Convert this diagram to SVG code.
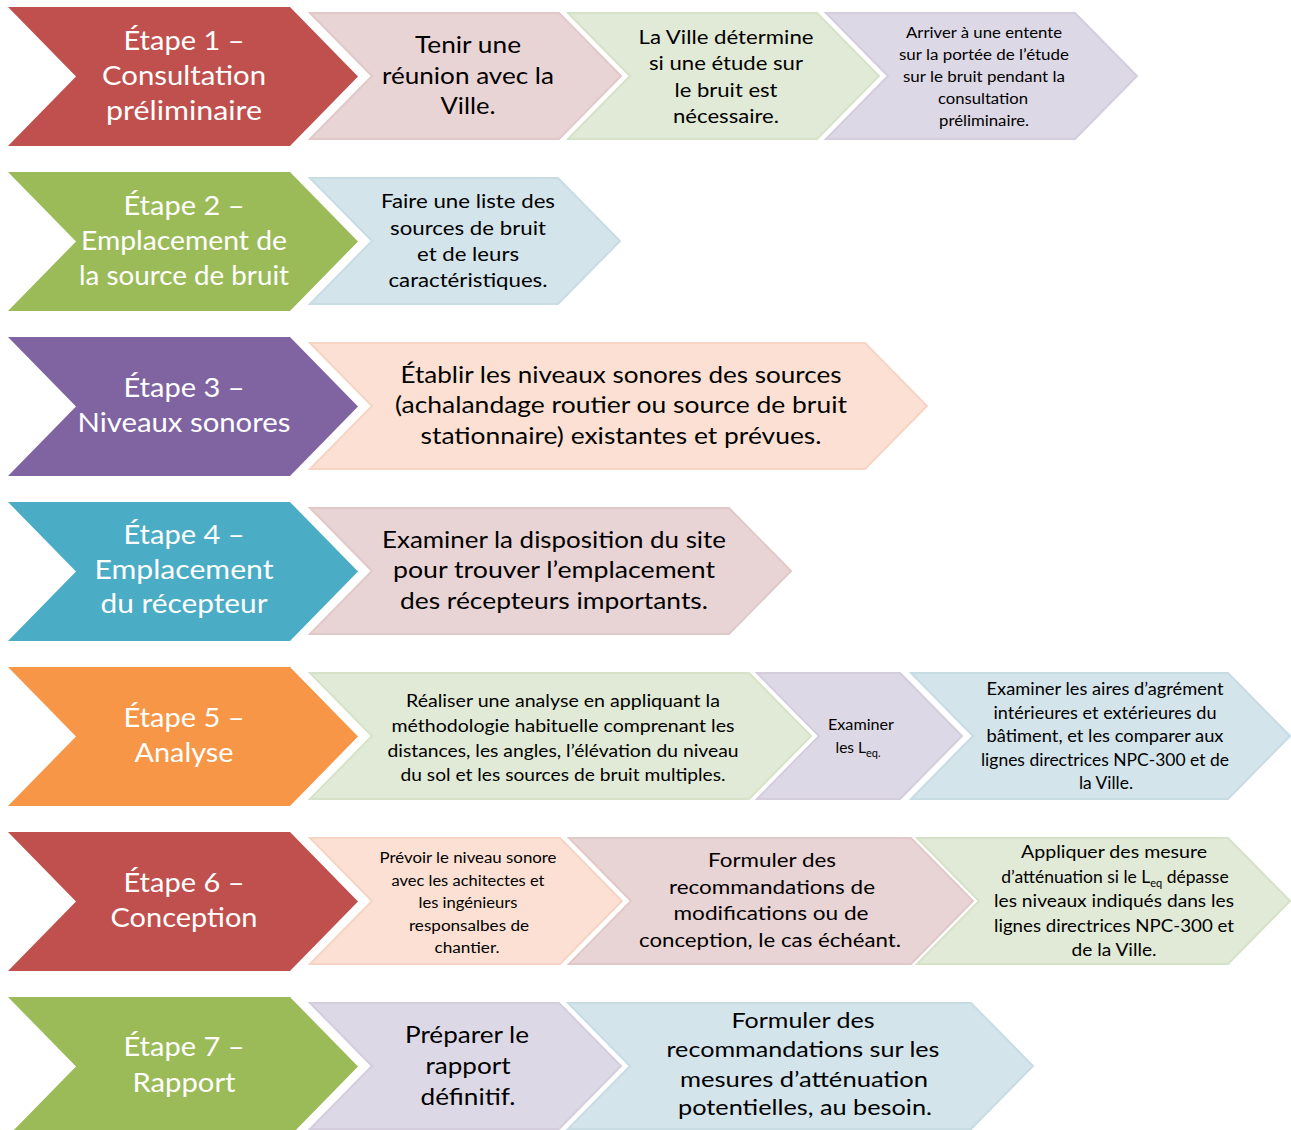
<svg xmlns="http://www.w3.org/2000/svg" width="1291" height="1130" viewBox="0 0 1291 1130">
<style>
text{font-family:Lato,"Open Sans","Liberation Sans",sans-serif;text-anchor:middle}
.m{fill:#fff;font-size:26.5px}
.s{fill:#000}
.f22{font-size:22.5px}
.f21{font-size:21.5px}
.f19{font-size:19.5px}
.f17{font-size:17.5px}
.f16{font-size:16.5px}
.f15{font-size:15.5px}
.sub{font-size:11px}
.red{fill:#C0504D}.grn{fill:#9BBB59}.pur{fill:#8064A2}.tea{fill:#4BACC6}.ora{fill:#F79646}
.pk{fill:#E9D4D5;stroke:#E1C8C9;stroke-width:2}
.lg{fill:#E1EAD6;stroke:#D6E2C8;stroke-width:2}
.lv{fill:#DDD8E5;stroke:#D3CDDD;stroke-width:2}
.lb{fill:#D3E4EB;stroke:#C8DCE4;stroke-width:2}
.pc{fill:#FCE0D3;stroke:#F6D4C4;stroke-width:2}
</style>
<rect width="1291" height="1130" fill="#fff"/>

<g id="etape1">
<path class="red" d="M8,7 H290 L358,76.5 L290,146 H8 L76,76.5 Z"/>
<text class="m" x="184" y="50" textLength="121" lengthAdjust="spacingAndGlyphs">Étape 1 –</text>
<text class="m" x="184" y="85" textLength="164" lengthAdjust="spacingAndGlyphs">Consultation</text>
<text class="m" x="184" y="120" textLength="156" lengthAdjust="spacingAndGlyphs">préliminaire</text>
</g>
<g id="e1a">
<path class="pk" d="M310,13 H559 L621,76 L559,139 H310 L372,76 Z"/>
<text class="s f22" x="468" y="53" textLength="106" lengthAdjust="spacingAndGlyphs">Tenir une</text>
<text class="s f22" x="468" y="84" textLength="172" lengthAdjust="spacingAndGlyphs">réunion avec la</text>
<text class="s f22" x="468" y="114" textLength="55" lengthAdjust="spacingAndGlyphs">Ville.</text>
</g>
<g id="e1b">
<path class="lg" d="M568,13 H817 L879,76 L817,139 H568 L630,76 Z"/>
<text class="s f19" x="726" y="44" textLength="175" lengthAdjust="spacingAndGlyphs">La Ville détermine</text>
<text class="s f19" x="726" y="70" textLength="154" lengthAdjust="spacingAndGlyphs">si une étude sur</text>
<text class="s f19" x="726" y="97" textLength="103" lengthAdjust="spacingAndGlyphs">le bruit est</text>
<text class="s f19" x="726" y="123" textLength="106" lengthAdjust="spacingAndGlyphs">nécessaire.</text>
</g>
<g id="e1c">
<path class="lv" d="M826,13 H1075 L1137,76 L1075,139 H826 L888,76 Z"/>
<text class="s f15" x="984" y="38" textLength="156" lengthAdjust="spacingAndGlyphs">Arriver à une entente</text>
<text class="s f15" x="984" y="60" textLength="170" lengthAdjust="spacingAndGlyphs">sur la portée de l’étude</text>
<text class="s f15" x="984" y="82" textLength="162" lengthAdjust="spacingAndGlyphs">sur le bruit pendant la</text>
<text class="s f15" x="983" y="104" textLength="90" lengthAdjust="spacingAndGlyphs">consultation</text>
<text class="s f15" x="984" y="126" textLength="90" lengthAdjust="spacingAndGlyphs">préliminaire.</text>
</g>

<g id="etape2">
<path class="grn" d="M8,172 H290 L358,241.5 L290,311 H8 L76,241.5 Z"/>
<text class="m" x="184" y="215" textLength="121" lengthAdjust="spacingAndGlyphs">Étape 2 –</text>
<text class="m" x="184" y="250" textLength="206" lengthAdjust="spacingAndGlyphs">Emplacement de</text>
<text class="m" x="184" y="285" textLength="210" lengthAdjust="spacingAndGlyphs">la source de bruit</text>
</g>
<g id="e2a">
<path class="lb" d="M310,178 H558 L620,241 L558,304 H310 L372,241 Z"/>
<text class="s f19" x="468" y="208" textLength="174" lengthAdjust="spacingAndGlyphs">Faire une liste des</text>
<text class="s f19" x="468" y="235" textLength="156" lengthAdjust="spacingAndGlyphs">sources de bruit</text>
<text class="s f19" x="468" y="261" textLength="102" lengthAdjust="spacingAndGlyphs">et de leurs</text>
<text class="s f19" x="468" y="287" textLength="159" lengthAdjust="spacingAndGlyphs">caractéristiques.</text>
</g>

<g id="etape3">
<path class="pur" d="M8,337 H290 L358,406.5 L290,476 H8 L76,406.5 Z"/>
<text class="m" x="184" y="397" textLength="121" lengthAdjust="spacingAndGlyphs">Étape 3 –</text>
<text class="m" x="184" y="432" textLength="213" lengthAdjust="spacingAndGlyphs">Niveaux sonores</text>
</g>
<g id="e3a">
<path class="pc" d="M310,343 H865 L927,406 L865,469 H310 L372,406 Z"/>
<text class="s f22" x="621" y="383" textLength="441" lengthAdjust="spacingAndGlyphs">Établir les niveaux sonores des sources</text>
<text class="s f22" x="621" y="413" textLength="452" lengthAdjust="spacingAndGlyphs">(achalandage routier ou source de bruit</text>
<text class="s f22" x="621" y="444" textLength="401" lengthAdjust="spacingAndGlyphs">stationnaire) existantes et prévues.</text>
</g>

<g id="etape4">
<path class="tea" d="M8,502 H290 L358,571.5 L290,641 H8 L76,571.5 Z"/>
<text class="m" x="184" y="544" textLength="121" lengthAdjust="spacingAndGlyphs">Étape 4 –</text>
<text class="m" x="184" y="579" textLength="179" lengthAdjust="spacingAndGlyphs">Emplacement</text>
<text class="m" x="184" y="613" textLength="167" lengthAdjust="spacingAndGlyphs">du récepteur</text>
</g>
<g id="e4a">
<path class="pk" d="M310,508 H729 L791,571 L729,634 H310 L372,571 Z"/>
<text class="s f22" x="554" y="548" textLength="344" lengthAdjust="spacingAndGlyphs">Examiner la disposition du site</text>
<text class="s f22" x="554" y="578" textLength="322" lengthAdjust="spacingAndGlyphs">pour trouver l’emplacement</text>
<text class="s f22" x="554" y="609" textLength="308" lengthAdjust="spacingAndGlyphs">des récepteurs importants.</text>
</g>

<g id="etape5">
<path class="ora" d="M8,667 H290 L358,736.5 L290,806 H8 L76,736.5 Z"/>
<text class="m" x="184" y="727" textLength="121" lengthAdjust="spacingAndGlyphs">Étape 5 –</text>
<text class="m" x="184" y="762" textLength="99" lengthAdjust="spacingAndGlyphs">Analyse</text>
</g>
<g id="e5a">
<path class="lg" d="M310,673 H749 L811,736 L749,799 H310 L372,736 Z"/>
<text class="s f17" x="563" y="707" textLength="314" lengthAdjust="spacingAndGlyphs">Réaliser une analyse en appliquant la</text>
<text class="s f17" x="563" y="732" textLength="343" lengthAdjust="spacingAndGlyphs">méthodologie habituelle comprenant les</text>
<text class="s f17" x="563" y="757" textLength="351" lengthAdjust="spacingAndGlyphs">distances, les angles, l’élévation du niveau</text>
<text class="s f17" x="563" y="781" textLength="325" lengthAdjust="spacingAndGlyphs">du sol et les sources de bruit multiples.</text>
</g>
<g id="e5b">
<path class="lv" d="M757,673 H900 L962,736 L900,799 H757 L819,736 Z"/>
<text class="s f15" x="861" y="730" textLength="66" lengthAdjust="spacingAndGlyphs">Examiner</text>
<text class="s f15" x="858" y="753">les L<tspan class="sub" dy="4">eq.</tspan></text>
</g>
<g id="e5c">
<path class="lb" d="M911,673 H1228 L1290,736 L1228,799 H911 L973,736 Z"/>
<text class="s f16" x="1105" y="695" textLength="237" lengthAdjust="spacingAndGlyphs">Examiner les aires d’agrément</text>
<text class="s f16" x="1105" y="718.5" textLength="223" lengthAdjust="spacingAndGlyphs">intérieures et extérieures du</text>
<text class="s f16" x="1105" y="742" textLength="237" lengthAdjust="spacingAndGlyphs">bâtiment, et les comparer aux</text>
<text class="s f16" x="1105" y="765.5" textLength="248" lengthAdjust="spacingAndGlyphs">lignes directrices NPC-300 et de</text>
<text class="s f16" x="1106" y="789" textLength="54" lengthAdjust="spacingAndGlyphs">la Ville.</text>
</g>

<g id="etape6">
<path class="red" d="M8,832 H290 L358,901.5 L290,971 H8 L76,901.5 Z"/>
<text class="m" x="184" y="892" textLength="121" lengthAdjust="spacingAndGlyphs">Étape 6 –</text>
<text class="m" x="184" y="927" textLength="147" lengthAdjust="spacingAndGlyphs">Conception</text>
</g>
<g id="e6a">
<path class="pc" d="M310,838 H560 L622,901 L560,964 H310 L372,901 Z"/>
<text class="s f15" x="468" y="863" textLength="177" lengthAdjust="spacingAndGlyphs">Prévoir le niveau sonore</text>
<text class="s f15" x="468" y="885.5" textLength="153" lengthAdjust="spacingAndGlyphs">avec les achitectes et</text>
<text class="s f15" x="468" y="908" textLength="99" lengthAdjust="spacingAndGlyphs">les ingénieurs</text>
<text class="s f15" x="469" y="930.5" textLength="120" lengthAdjust="spacingAndGlyphs">responsalbes de</text>
<text class="s f15" x="467" y="953" textLength="65" lengthAdjust="spacingAndGlyphs">chantier.</text>
</g>
<g id="e6b">
<path class="pk" d="M569,838 H911 L973,901 L911,964 H569 L631,901 Z"/>
<text class="s f19" x="772" y="867" textLength="128" lengthAdjust="spacingAndGlyphs">Formuler des</text>
<text class="s f19" x="772" y="893.5" textLength="206" lengthAdjust="spacingAndGlyphs">recommandations de</text>
<text class="s f19" x="771" y="920" textLength="195" lengthAdjust="spacingAndGlyphs">modifications ou de</text>
<text class="s f19" x="770" y="946.5" textLength="262" lengthAdjust="spacingAndGlyphs">conception, le cas échéant.</text>
</g>
<g id="e6c">
<path class="lg" d="M917,838 H1228 L1290,901 L1228,964 H917 L979,901 Z"/>
<text class="s f17" x="1114" y="858" textLength="186" lengthAdjust="spacingAndGlyphs">Appliquer des mesure</text>
<text class="s f17" x="1115" y="882.5">d’atténuation si le L<tspan class="sub" dy="4">eq</tspan><tspan dy="-4"> dépasse</tspan></text>
<text class="s f17" x="1114" y="907" textLength="240" lengthAdjust="spacingAndGlyphs">les niveaux indiqués dans les</text>
<text class="s f17" x="1114" y="931.5" textLength="240" lengthAdjust="spacingAndGlyphs">lignes directrices NPC-300 et</text>
<text class="s f17" x="1114" y="956" textLength="85" lengthAdjust="spacingAndGlyphs">de la Ville.</text>
</g>

<g id="etape7">
<path class="grn" d="M8,997 H290 L358,1066.5 L290,1136 H8 L76,1066.5 Z"/>
<text class="m" x="184" y="1056" textLength="121" lengthAdjust="spacingAndGlyphs">Étape 7 –</text>
<text class="m" x="184" y="1092" textLength="103" lengthAdjust="spacingAndGlyphs">Rapport</text>
</g>
<g id="e7a">
<path class="lv" d="M310,1003 H559 L621,1066 L559,1129 H310 L372,1066 Z"/>
<text class="s f22" x="467" y="1043" textLength="124" lengthAdjust="spacingAndGlyphs">Préparer le</text>
<text class="s f22" x="468" y="1074" textLength="85" lengthAdjust="spacingAndGlyphs">rapport</text>
<text class="s f22" x="468" y="1105" textLength="95" lengthAdjust="spacingAndGlyphs">définitif.</text>
</g>
<g id="e7b">
<path class="lb" d="M568,1003 H971 L1033,1066 L971,1129 H568 L630,1066 Z"/>
<text class="s f21" x="803" y="1028" textLength="143" lengthAdjust="spacingAndGlyphs">Formuler des</text>
<text class="s f21" x="803" y="1057" textLength="273" lengthAdjust="spacingAndGlyphs">recommandations sur les</text>
<text class="s f21" x="804" y="1086.5" textLength="248" lengthAdjust="spacingAndGlyphs">mesures d’atténuation</text>
<text class="s f21" x="805" y="1115" textLength="254" lengthAdjust="spacingAndGlyphs">potentielles, au besoin.</text>
</g>
<g id="connectors"></g>
</svg>
